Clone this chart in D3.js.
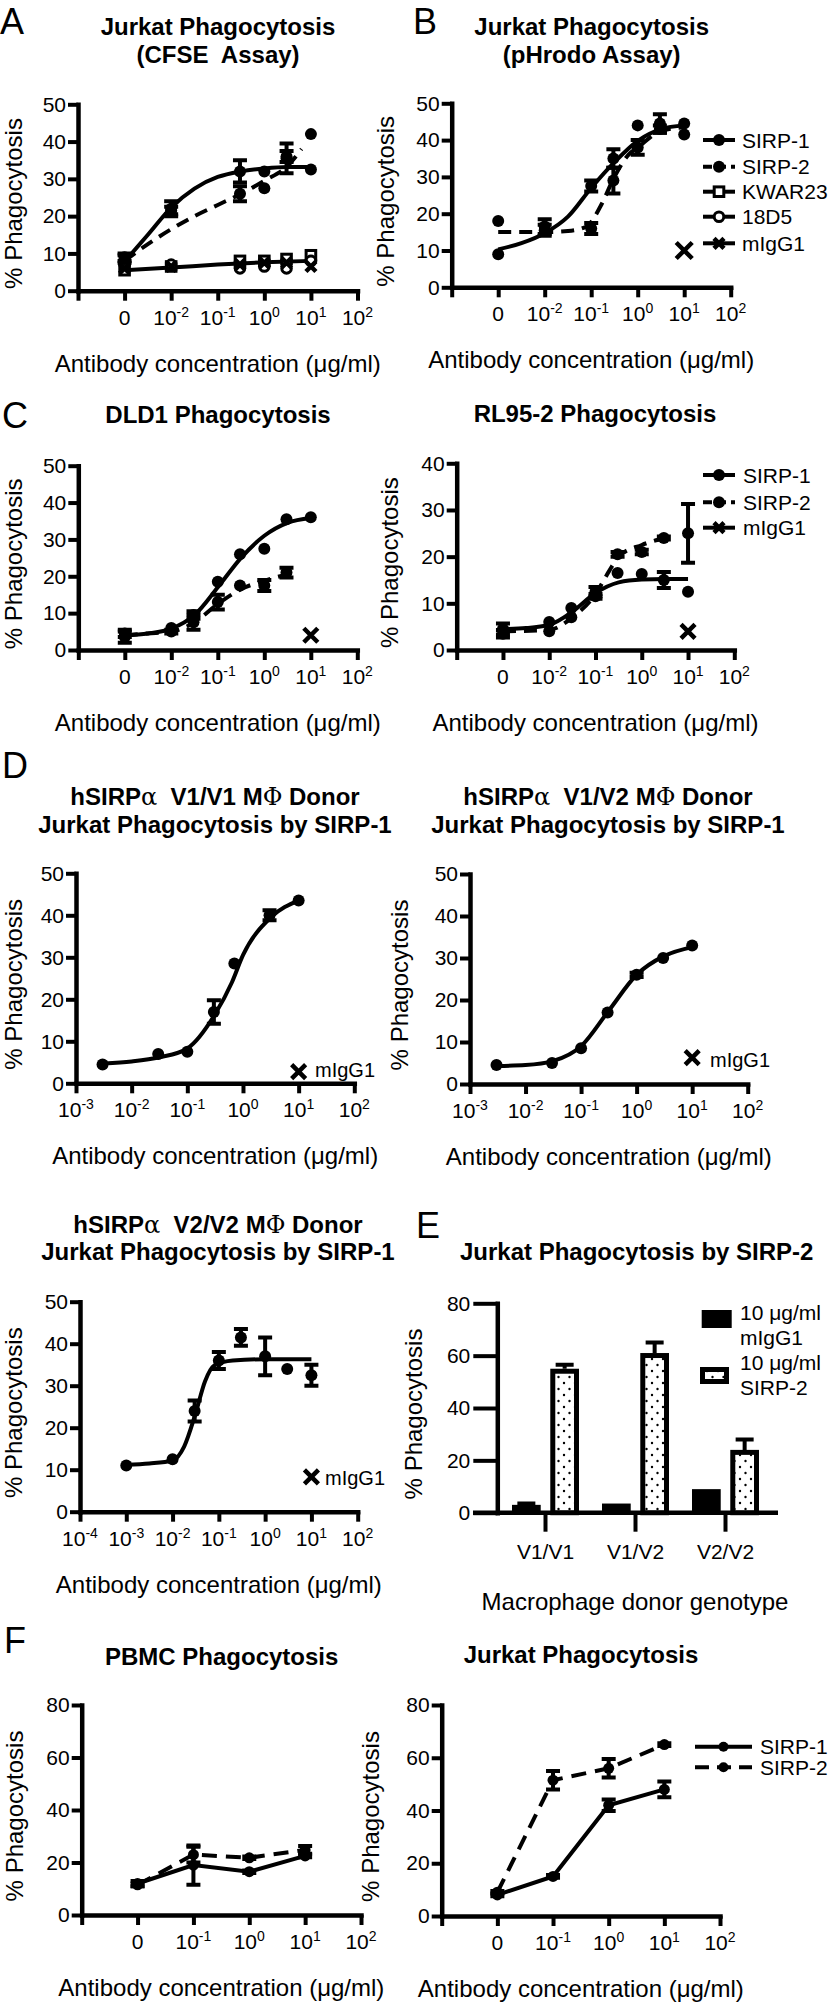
<!DOCTYPE html>
<html><head><meta charset="utf-8">
<script src="https://cdn.jsdelivr.net/npm/d3@7"></script>
<style>body{margin:0;background:#fff} svg{display:block}</style>
</head><body>
<svg id="fig" width="829" height="2003"></svg>
<script>
// ---------------- DATA ----------------
// Panel A  (x "0" plotted at the 10^-3 position)
const A_conc = [0, 0.01, 0.3, 1, 3, 10];
const A_sirp1 = [9, 22, 32, 32, 35.5, 32.5];
const A_sirp1Err = [1, 2, 3, 0, 4, 0];
const A_sirp2 = [8.5, 21.5, 26, 27.5, 36, 42];
const A_sirp2Err = [1, 1, 2, 0, 1.5, 0];
const A_kwar = [5.5, 6.5, 8, 8, 8.5, 9.5];
const A_18d5 = [7, 7, 6, 6.5, 6, 8];
const A_migg = [6, 6.5, 7, 7.5, 7.5, 6.5];
const A_fitSirp1 = [[-3,7.8],[-2.5,15],[-2,22.3],[-1.5,27.4],[-1,30.5],[-0.5,32],[0,32.8],[0.5,33.2],[1,33.2]];
const A_fitSirp2 = [[-3,8],[-2.5,12.5],[-2,16.5],[-1.5,20],[-1,23],[-0.5,26],[0,29.5],[0.5,33.5],[0.8,38]];
const A_fitLow = [[-3,5.5],[-2,6.2],[-1,7],[0,7.6],[1,8]];

// Panel B
const B_conc = [0, 0.01, 0.1, 0.3, 1, 3, 10];
const B_sirp1 = [9, 16.5, 27.5, 35, 44, 44.5, 44.5];
const B_sirp1Err = [0, 2, 1.5, 2.5, 0, 2.5, 0];
const B_sirp2 = [18, 15.5, 16, 29, 38, 43, 41.5];
const B_sirp2Err = [0, 1.5, 1.5, 3.5, 2, 1, 0];
const B_miggConc = [10];
const B_migg = [10];
const B_fitSirp1 = [[-3,10.3],[-2.5,12],[-2,14.7],[-1.5,19.2],[-1,27],[-0.5,34],[0,39.8],[0.5,43],[1,44]];
const B_fitSirp2 = [[-3,15],[-2,15],[-1.5,15.3],[-1.1,16.5],[-0.8,22],[-0.5,30],[-0.2,36],[0,38],[0.5,42.5],[1,43.5]];
const B_legend = ["SIRP-1", "SIRP-2", "KWAR23", "18D5", "mIgG1"];

// Panel C left (DLD1)
const C1_conc = [0, 0.01, 0.03, 0.1, 0.3, 1, 3, 10];
const C1_sirp1 = [4.5, 6, 9.5, 18.5, 26, 27.5, 35.5, 36];
const C1_sirp1Err = [1, 0, 1, 0, 0, 0, 0, 0];
const C1_conc2 = [0, 0.01, 0.03, 0.1, 0.3, 1, 3];
const C1_sirp2 = [3.5, 5, 7.5, 13, 17.5, 17.5, 21];
const C1_sirp2Err = [1.5, 0.5, 2, 2, 0, 1.5, 1.3];
const C1_migg = [4];
const C1_fitSirp1 = [[-3,4],[-2.5,4.5],[-2,5.8],[-1.5,9.5],[-1,17],[-0.5,25],[0,31],[0.5,34.5],[1,35.8]];
const C1_fitSirp2 = [[-3,4],[-2.5,4.5],[-2,5],[-1.5,7.5],[-1,12.5],[-0.5,16.5],[0,18.8],[0.5,20.5]];

// Panel C right (RL95-2)
const C2_conc = [0, 0.01, 0.03, 0.1, 0.3, 1, 3, 10];
const C2_sirp1 = [4.5, 6, 9, 12.5, 16.5, 16.3, 15, 12.5];
const C2_sirp1Err = [1.2, 0, 0, 1, 0, 0, 1.7, 0];
const C2_sirp2 = [3.5, 4, 7, 11.5, 20.5, 21, 24, 25];
const C2_sirp2Err = [0.8, 0, 0, 0.5, 0.5, 0.5, 0.3, 6.3];
const C2_migg = [4];
const C2_fitSirp1 = [[-3,4.5],[-2.5,4.7],[-2,5.4],[-1.5,8.2],[-1,12.2],[-0.5,14.5],[0,15.1],[0.5,15.2],[1,15.2]];
const C2_fitSirp2 = [[-3,4],[-2,4.3],[-1.5,7],[-1,12],[-0.7,17],[-0.5,20],[0,22.5],[0.5,24]];
const C2_legend = ["SIRP-1", "SIRP-2", "mIgG1"];

// Panel D V1/V1
const D1_conc = [0.003, 0.03, 0.1, 0.3, 0.7, 3, 10];
const D1_vals = [4.5, 7, 7.5, 17, 28.5, 40, 43.5];
const D1_err = [0, 0, 0, 2.8, 0, 1.2, 0];
const D1_migg = [2.8];
const D1_fit = [[-2.5,4.7],[-2,5.2],[-1.5,6.2],[-1,8.3],[-0.5,16.5],[-0.2,24],[0,30.5],[0.5,39.5],[1,43.5]];
// Panel D V1/V2
const D2_conc = [0.003, 0.03, 0.1, 0.3, 1, 3, 10];
const D2_vals = [4.5, 5, 8.5, 17, 26, 30, 33];
const D2_err = [0, 0, 0, 0, 0.5, 0, 0];
const D2_migg = [6.3];
const D2_fit = [[-2.5,4.3],[-2,4.5],[-1.5,5.5],[-1,9],[-0.5,17.5],[0,26],[0.5,30.5],[1,32.6]];
// Panel D V2/V2
const D3_conc = [0.001, 0.01, 0.03, 0.1, 0.3, 1, 3, 10];
const D3_vals = [11, 12.5, 24, 36, 41.5, 37, 34, 32.5];
const D3_err = [0, 0, 2.5, 2, 2, 4.5, 0, 2.5];
const D3_migg = [8.3];
const D3_fit = [[-3,11.2],[-2.5,11.5],[-2,12.2],[-1.75,15.5],[-1.5,23.5],[-1.3,31],[-1.1,34.8],[-0.7,36],[0,36.3],[1,36.3]];

// Panel E
const E_cats = ["V1/V1", "V1/V2", "V2/V2"];
const E_groups = ["mIgG1", "SIRP-2"];
const E_migg = [3, 3.5, 9];
const E_miggErr = [0.5, 0, 0];
const E_sirp2 = [55, 61, 24];
const E_sirp2Err = [1.5, 4, 4];

// Panel F
const F_conc = [0, 0.1, 1, 10];
const F1_sirp1 = [12, 19, 16.5, 22.5];
const F1_sirp1Err = [1, 7.5, 0.5, 0.5];
const F1_sirp2 = [11.5, 23, 21.8, 24.8];
const F1_sirp2Err = [0.5, 3, 0.5, 1.5];
const F2_sirp1 = [8, 15, 42, 48];
const F2_sirp1Err = [0.5, 0.5, 2.2, 3];
const F2_sirp2 = [9, 51.5, 56, 65];
const F2_sirp2Err = [0.5, 3.5, 3.5, 0.5];
const F_legend = ["SIRP-1", "SIRP-2"];

const X_LABELS_A = ["", "0", "10^-2", "10^-1", "10^0", "10^1", "10^2"];
const X_LABELS_D = ["10^-3", "10^-2", "10^-1", "10^0", "10^1", "10^2"];
const X_LABELS_D3 = ["10^-4", "10^-3", "10^-2", "10^-1", "10^0", "10^1", "10^2"];
const X_LABELS_F = ["", "0", "10^-1", "10^0", "10^1", "10^2"];

// ---------------- DRAWING ----------------
const FONT = "'Liberation Sans', Arial, Helvetica, sans-serif";
const svg = d3.select("#fig");
svg.append("rect").attr("width", 829).attr("height", 2003).attr("fill", "#fff");

const defs = svg.append("defs");
const pat = defs.append("pattern").attr("id", "dots").attr("patternUnits", "userSpaceOnUse")
  .attr("width", 11).attr("height", 12);
pat.append("rect").attr("width", 11).attr("height", 12).attr("fill", "#fff");
pat.append("circle").attr("cx", 3).attr("cy", 3).attr("r", 1.2).attr("fill", "#000");
pat.append("circle").attr("cx", 8.5).attr("cy", 9).attr("r", 1.2).attr("fill", "#000");

function text(g, x, y, s, o = {}) {
  return g.append("text").attr("x", x).attr("y", y).attr("font-family", FONT)
    .attr("font-size", o.size || 21).attr("font-weight", o.bold ? "bold" : "normal")
    .attr("text-anchor", o.anchor || "start").attr("fill", "#000").style("white-space", "pre").text(s);
}

function expLabel(g, x, y, label) {
  const t = g.append("text").attr("x", x).attr("y", y).attr("text-anchor", "middle")
    .attr("font-family", FONT).attr("font-size", 21).attr("fill", "#000");
  const parts = label.split("^");
  t.append("tspan").text(parts[0]);
  if (parts[1]) t.append("tspan").attr("dy", -8).attr("font-size", 14).text(parts[1]);
}

function styleAxis(a) {
  a.attr("font-family", FONT).attr("font-size", 21);
  a.select(".domain").attr("stroke", "#000").attr("stroke-width", 4.5).attr("stroke-linecap", "square");
  a.selectAll(".tick line").attr("stroke", "#000").attr("stroke-width", 4);
  a.selectAll(".tick text").attr("fill", "#000");
}

function marker(g, cx, cy, type, r) {
  if (type === "dot") {
    g.append("circle").attr("cx", cx).attr("cy", cy).attr("r", r).attr("fill", "#000");
  } else if (type === "circle") {
    g.append("circle").attr("cx", cx).attr("cy", cy).attr("r", r - 1.2).attr("fill", "#fff")
      .attr("stroke", "#000").attr("stroke-width", 3);
  } else if (type === "square") {
    g.append("rect").attr("x", cx - r + 1.2).attr("y", cy - r + 1.2).attr("width", 2 * r - 2.4)
      .attr("height", 2 * r - 2.4).attr("fill", "#fff").attr("stroke", "#000").attr("stroke-width", 3);
  } else if (type === "x") {
    g.append("path").attr("d", `M${cx - r},${cy - r}L${cx + r},${cy + r}M${cx - r},${cy + r}L${cx + r},${cy - r}`)
      .attr("stroke", "#000").attr("stroke-width", 4.5).attr("fill", "none");
  }
}

function drawSeries(g, px, y, s) {
  const pts = s.conc.map((c, i) => ({ x: px(c), v: s.vals[i], e: s.err ? s.err[i] : 0 }));
  if (s.line) {
    g.append("path").datum(pts)
      .attr("d", d3.line().x(d => d.x).y(d => y(d.v)))
      .attr("fill", "none").attr("stroke", "#000").attr("stroke-width", 4)
      .attr("stroke-dasharray", s.dashed ? (s.dash || "13,8") : null);
  }
  pts.forEach(p => {
    if (p.e > 0) {
      const lo = y(p.v - p.e), hi = y(p.v + p.e), w = 7;
      g.append("path").attr("d", `M${p.x},${lo}V${hi}M${p.x - w},${lo}H${p.x + w}M${p.x - w},${hi}H${p.x + w}`)
        .attr("stroke", "#000").attr("stroke-width", 4).attr("fill", "none");
    }
  });
  pts.forEach(p => marker(g, p.x, y(p.v), s.marker, s.r || 6));
}

function legend(g, x0, x1, xt, rows) {
  rows.forEach(r => {
    g.append("line").attr("x1", x0).attr("x2", x1).attr("y1", r.y).attr("y2", r.y)
      .attr("stroke", "#000").attr("stroke-width", 4)
      .attr("stroke-dasharray", r.dashed ? (r.dash || "9,5") : null);
    marker(g, (x0 + x1) / 2, r.y, r.marker, r.r || 6);
    text(g, xt, r.y + 7.5, r.label, { size: 21 });
  });
}

function dosePanel(p) {
  const g = svg.append("g");
  const x = d3.scaleLog().domain([Math.pow(10, p.xExp[0]), Math.pow(10, p.xExp[1])]).range([p.x0, p.x1]);
  const y = d3.scaleLinear().domain([0, p.yMax]).range([p.y0, p.y1]);
  const px = c => x(c === 0 ? Math.pow(10, p.zeroExp) : c);
  const ya = g.append("g").attr("transform", `translate(${p.x0},0)`)
    .call(d3.axisLeft(y).tickValues(d3.range(0, p.yMax + 1e-9, p.yStep)).tickSize(10)
      .tickSizeOuter(0).tickPadding(2).tickFormat(d3.format("d")));
  const decades = d3.range(p.xExp[0], p.xExp[1] + 1).map(e => Math.pow(10, e));
  const xa = g.append("g").attr("transform", `translate(0,${p.y0})`)
    .call(d3.axisBottom(x).tickValues(decades).tickSize(10).tickSizeOuter(0).tickFormat(() => ""));
  styleAxis(ya); styleAxis(xa);
  decades.forEach((d, i) => { if (p.xLabels[i]) expLabel(g, x(d), p.y0 + 34, p.xLabels[i]); });
  p.title.forEach((t, i) => {
    const tt = text(g, p.titleX, p.titleY[i], "", { size: 24, bold: true, anchor: "middle" });
    t.split(/([αΦ])/).forEach(part => {
      if (!part) return;
      const sp = tt.append("tspan").text(part);
      if (part === "α" || part === "Φ") sp.attr("font-weight", "normal").attr("font-family", "'DejaVu Serif', serif");
    });
  });
  g.append("text").attr("transform", `translate(${p.yTitleX},${(p.y0 + p.y1) / 2 + 6}) rotate(-90)`)
    .attr("text-anchor", "middle").attr("font-family", FONT).attr("font-size", 24).attr("fill", "#000")
    .text("% Phagocytosis");
  text(g, (p.x0 + p.x1) / 2, p.y0 + 81, "Antibody concentration (μg/ml)", { size: 24, anchor: "middle" });
  (p.fits || []).forEach(f => {
    g.append("path").datum(f.pts)
      .attr("d", d3.line().x(d => x(Math.pow(10, d[0]))).y(d => y(d[1])).curve(d3.curveMonotoneX))
      .attr("fill", "none").attr("stroke", "#000").attr("stroke-width", 4)
      .attr("stroke-dasharray", f.dashed ? "13,8" : null);
  });
  (p.series || []).forEach(s => drawSeries(g, px, y, s));
  return { g, x, y, px };
}

// Panel letters
[["A", 0, 34], ["B", 413, 34], ["C", 2, 428], ["D", 2, 778], ["E", 416, 1238], ["F", 4, 1653]]
  .forEach(([l, x, y]) => text(svg, x, y, l, { size: 36 }));

// ---- A ----
dosePanel({
  x0: 78, x1: 357.5, y0: 290.7, y1: 104.3, yMax: 50, yStep: 10, xExp: [-4, 2], zeroExp: -3,
  xLabels: X_LABELS_A, title: ["Jurkat Phagocytosis", "(CFSE  Assay)"], titleX: 218, titleY: [35, 63], yTitleX: 22,
  fits: [{ pts: A_fitLow }, { pts: A_fitSirp2, dashed: true }, { pts: A_fitSirp1 }],
  series: [
    { conc: A_conc, vals: A_kwar, marker: "square" },
    { conc: A_conc, vals: A_18d5, marker: "circle" },
    { conc: A_conc, vals: A_migg, marker: "x", r: 5 },
    { conc: A_conc, vals: A_sirp2, err: A_sirp2Err, marker: "dot" },
    { conc: A_conc, vals: A_sirp1, err: A_sirp1Err, marker: "dot" }
  ]
});

// ---- B ----
const pB = dosePanel({
  x0: 451.7, x1: 730.7, y0: 287.3, y1: 103.3, yMax: 50, yStep: 10, xExp: [-4, 2], zeroExp: -3,
  xLabels: X_LABELS_A, title: ["Jurkat Phagocytosis", "(pHrodo Assay)"], titleX: 591.7, titleY: [35, 63], yTitleX: 394,
  fits: [{ pts: B_fitSirp2, dashed: true }, { pts: B_fitSirp1 }],
  series: [
    { conc: B_conc, vals: B_sirp2, err: B_sirp2Err, marker: "dot" },
    { conc: B_conc, vals: B_sirp1, err: B_sirp1Err, marker: "dot" },
    { conc: B_miggConc, vals: B_migg, marker: "x", r: 8 }
  ]
});
legend(pB.g, 703, 735, 742, [
  { label: B_legend[0], marker: "dot", y: 140 },
  { label: B_legend[1], marker: "dot", y: 166.7, dashed: true },
  { label: B_legend[2], marker: "square", y: 191.7 },
  { label: B_legend[3], marker: "circle", y: 216.7 },
  { label: B_legend[4], marker: "x", y: 243.3, r: 5 }
]);

// ---- C ----
dosePanel({
  x0: 78.3, x1: 357.3, y0: 650, y1: 465.7, yMax: 50, yStep: 10, xExp: [-4, 2], zeroExp: -3,
  xLabels: X_LABELS_A, title: ["DLD1 Phagocytosis"], titleX: 218, titleY: [423], yTitleX: 22,
  fits: [{ pts: C1_fitSirp2, dashed: true }, { pts: C1_fitSirp1 }],
  series: [
    { conc: C1_conc2, vals: C1_sirp2, err: C1_sirp2Err, marker: "dot" },
    { conc: C1_conc, vals: C1_sirp1, err: C1_sirp1Err, marker: "dot" },
    { conc: [10], vals: C1_migg, marker: "x", r: 7 }
  ]
});
const pC2 = dosePanel({
  x0: 456.7, x1: 734.3, y0: 650, y1: 463.3, yMax: 40, yStep: 10, xExp: [-4, 2], zeroExp: -3,
  xLabels: X_LABELS_A, title: ["RL95-2 Phagocytosis"], titleX: 595, titleY: [422], yTitleX: 398,
  fits: [{ pts: C2_fitSirp2, dashed: true }, { pts: C2_fitSirp1 }],
  series: [
    { conc: C2_conc, vals: C2_sirp2, err: C2_sirp2Err, marker: "dot" },
    { conc: C2_conc, vals: C2_sirp1, err: C2_sirp1Err, marker: "dot" },
    { conc: [10], vals: C2_migg, marker: "x", r: 7 }
  ]
});
legend(pC2.g, 703, 735, 743, [
  { label: C2_legend[0], marker: "dot", y: 475 },
  { label: C2_legend[1], marker: "dot", y: 502.3, dashed: true },
  { label: C2_legend[2], marker: "x", y: 527.7, r: 5 }
]);

// ---- D ----
const pD1 = dosePanel({
  x0: 76, x1: 354.3, y0: 1083.3, y1: 873.3, yMax: 50, yStep: 10, xExp: [-3, 2], zeroExp: -3,
  xLabels: X_LABELS_D, title: ["hSIRPα  V1/V1 MΦ Donor", "Jurkat Phagocytosis by SIRP-1"], titleX: 215, titleY: [805, 833], yTitleX: 22,
  fits: [{ pts: D1_fit }],
  series: [
    { conc: D1_conc, vals: D1_vals, err: D1_err, marker: "dot" },
    { conc: [10], vals: D1_migg, marker: "x", r: 7 }
  ]
});
text(pD1.g, 315, 1077, "mIgG1", { size: 20 });
const pD2 = dosePanel({
  x0: 470, x1: 747.7, y0: 1084, y1: 874, yMax: 50, yStep: 10, xExp: [-3, 2], zeroExp: -3,
  xLabels: X_LABELS_D, title: ["hSIRPα  V1/V2 MΦ Donor", "Jurkat Phagocytosis by SIRP-1"], titleX: 608, titleY: [805, 833], yTitleX: 408,
  fits: [{ pts: D2_fit }],
  series: [
    { conc: D2_conc, vals: D2_vals, err: D2_err, marker: "dot" },
    { conc: [10], vals: D2_migg, marker: "x", r: 7 }
  ]
});
text(pD2.g, 710, 1067, "mIgG1", { size: 20 });
const pD3 = dosePanel({
  x0: 80, x1: 357.7, y0: 1511.7, y1: 1301.7, yMax: 50, yStep: 10, xExp: [-4, 2], zeroExp: -4,
  xLabels: X_LABELS_D3, title: ["hSIRPα  V2/V2 MΦ Donor", "Jurkat Phagocytosis by SIRP-1"], titleX: 218, titleY: [1233, 1260], yTitleX: 22,
  fits: [{ pts: D3_fit }],
  series: [
    { conc: D3_conc, vals: D3_vals, err: D3_err, marker: "dot" },
    { conc: [10], vals: D3_migg, marker: "x", r: 7 }
  ]
});
text(pD3.g, 325, 1485, "mIgG1", { size: 20 });

// ---- E ----
(function () {
  const g = svg.append("g");
  const x = d3.scalePoint().domain(E_cats).range([545, 725]);
  const xs = d3.scaleBand().domain(E_groups).range([-33, 34]).paddingInner(0.25);
  const y = d3.scaleLinear().domain([0, 80]).range([1512.7, 1303.3]);
  const ya = g.append("g").attr("transform", "translate(497.3,0)")
    .call(d3.axisLeft(y).tickValues([0, 20, 40, 60, 80]).tickSize(24).tickSizeOuter(0).tickPadding(3));
  styleAxis(ya);
  g.append("line").attr("x1", 473).attr("x2", 778).attr("y1", y(0)).attr("y2", y(0))
    .attr("stroke", "#000").attr("stroke-width", 4.5);
  const xa = g.append("g").attr("transform", `translate(0,${y(0)})`)
    .call(d3.axisBottom(x).tickSize(19).tickSizeOuter(0).tickPadding(8));
  styleAxis(xa);
  xa.select(".domain").remove();
  xa.selectAll(".tick text").attr("font-size", 21).attr("dy", null).attr("y", 46);
  const bw = xs.bandwidth();
  E_cats.forEach((c, i) => {
    const xm = x(c) + xs("mIgG1");
    g.append("rect").attr("x", xm).attr("y", y(E_migg[i])).attr("width", bw)
      .attr("height", y(0) - y(E_migg[i])).attr("fill", "#000");
    if (E_miggErr[i] > 0) {
      const cx = xm + bw / 2, top = y(E_migg[i] + E_miggErr[i]);
      g.append("path").attr("d", `M${cx},${y(E_migg[i])}V${top}M${cx - 9},${top}H${cx + 9}`)
        .attr("stroke", "#000").attr("stroke-width", 4);
    }
    const xsb = x(c) + xs("SIRP-2");
    const cx = xsb + bw / 2, top = y(E_sirp2[i] + E_sirp2Err[i]);
    g.append("path").attr("d", `M${cx},${y(E_sirp2[i])}V${top}M${cx - 9},${top}H${cx + 9}`)
      .attr("stroke", "#000").attr("stroke-width", 4);
    g.append("rect").attr("x", xsb + 2.5).attr("y", y(E_sirp2[i]) + 2.5).attr("width", bw - 5)
      .attr("height", y(0) - y(E_sirp2[i]) - 2.5).attr("fill", "url(#dots)")
      .attr("stroke", "#000").attr("stroke-width", 5);
  });
  text(g, 636.7, 1260, "Jurkat Phagocytosis by SIRP-2", { size: 24, bold: true, anchor: "middle" });
  g.append("text").attr("transform", `translate(422,1414) rotate(-90)`).attr("text-anchor", "middle")
    .attr("font-family", FONT).attr("font-size", 24).attr("fill", "#000").text("% Phagocytosis");
  text(g, 635, 1610, "Macrophage donor genotype", { size: 24, anchor: "middle" });
  // legend
  g.append("rect").attr("x", 701.7).attr("y", 1310).attr("width", 30).attr("height", 18).attr("fill", "#000");
  text(g, 740, 1320, "10 μg/ml", { size: 21 });
  text(g, 740, 1345, E_groups[0], { size: 21 });
  g.append("rect").attr("x", 702.5).attr("y", 1369.5).attr("width", 24).attr("height", 12)
    .attr("fill", "url(#dots)").attr("stroke", "#000").attr("stroke-width", 5);
  text(g, 740, 1370, "10 μg/ml", { size: 21 });
  text(g, 740, 1395, E_groups[1], { size: 21 });
})();

// ---- F ----
dosePanel({
  x0: 81.7, x1: 361, y0: 1915, y1: 1705, yMax: 80, yStep: 20, xExp: [-3, 2], zeroExp: -2,
  xLabels: X_LABELS_F, title: ["PBMC Phagocytosis"], titleX: 221.7, titleY: [1665], yTitleX: 23,
  series: [
    { conc: F_conc, vals: F1_sirp2, err: F1_sirp2Err, marker: "dot", r: 5.5, line: true, dashed: true, dash: "15,9" },
    { conc: F_conc, vals: F1_sirp1, err: F1_sirp1Err, marker: "dot", r: 5.5, line: true }
  ]
});
const pF2 = dosePanel({
  x0: 441.7, x1: 720, y0: 1916, y1: 1705, yMax: 80, yStep: 20, xExp: [-3, 2], zeroExp: -2,
  xLabels: X_LABELS_F, title: ["Jurkat Phagocytosis"], titleX: 581, titleY: [1663], yTitleX: 379,
  series: [
    { conc: F_conc, vals: F2_sirp2, err: F2_sirp2Err, marker: "dot", r: 5.5, line: true, dashed: true, dash: "15,9" },
    { conc: F_conc, vals: F2_sirp1, err: F2_sirp1Err, marker: "dot", r: 5.5, line: true }
  ]
});
legend(pF2.g, 695, 752, 760, [
  { label: F_legend[0], marker: "dot", y: 1746.7, r: 5 },
  { label: F_legend[1], marker: "dot", y: 1767.3, r: 5, dashed: true, dash: "14,8" }
]);
</script>
</body></html>
